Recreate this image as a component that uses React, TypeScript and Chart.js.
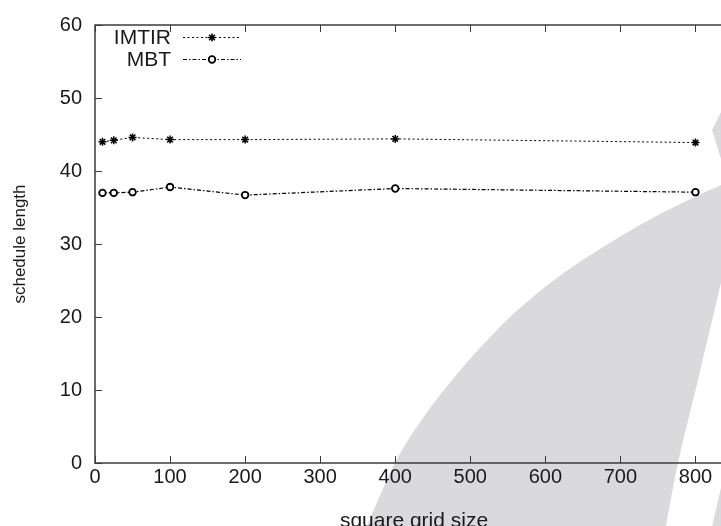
import React, { useEffect, useRef } from 'react';
import { Chart, registerables } from 'chart.js';

Chart.register(...registerables);

// ---- data ----
const gridSizes = [10, 25, 50, 100, 200, 400, 800];
const imtirValues = [44.0, 44.2, 44.6, 44.3, 44.3, 44.4, 43.9];
const mbtValues = [37.0, 37.0, 37.1, 37.8, 36.7, 37.6, 37.1];
const seriesNames = ['IMTIR', 'MBT'];
const xTickValues = [0, 100, 200, 300, 400, 500, 600, 700, 800];
const yTickValues = [0, 10, 20, 30, 40, 50, 60];
const xTitleText = 'square grid size';
const yTitleText = 'schedule length';

const FONT = '"Liberation Sans", Arial, Helvetica, sans-serif';
const TEXT = '#1a1a1a';
const FRAME = '#3c3c3c';
const WATERMARK = '#dadadd';

const dashes: number[][] = [[2, 2.5], [4, 2, 1.5, 2]];

function smoothPath(ctx: CanvasRenderingContext2D, pts: number[][], move: boolean) {
  if (move) ctx.moveTo(pts[0][0], pts[0][1]);
  else ctx.lineTo(pts[0][0], pts[0][1]);
  for (let i = 0; i < pts.length - 1; i++) {
    const p0 = pts[Math.max(0, i - 1)];
    const p1 = pts[i];
    const p2 = pts[i + 1];
    const p3 = pts[Math.min(pts.length - 1, i + 2)];
    const c1x = p1[0] + (p2[0] - p0[0]) / 6;
    const c1y = p1[1] + (p2[1] - p0[1]) / 6;
    const c2x = p2[0] - (p3[0] - p1[0]) / 6;
    const c2y = p2[1] - (p3[1] - p1[1]) / 6;
    ctx.bezierCurveTo(c1x, c1y, c2x, c2y, p2[0], p2[1]);
  }
}

const watermarkPlugin = {
  id: 'watermark',
  beforeDraw(chart: any) {
    const ctx = chart.ctx;
    ctx.save();
    ctx.fillStyle = WATERMARK;
    const curve = [
      [361, 540], [367, 526], [395, 463], [425, 415], [463, 367], [500, 327], [527, 302],
      [565, 272], [613, 241], [662, 213], [721, 185], [760, 170],
    ];
    ctx.beginPath();
    smoothPath(ctx, curve, true);
    ctx.lineTo(760, 250);
    ctx.lineTo(724, 271);
    smoothPath(ctx, [[724, 271], [717, 300], [698, 380], [678, 463], [666, 526], [663, 540]], false);
    ctx.closePath();
    ctx.fill();
    // bottom-right sliver
    ctx.beginPath();
    ctx.moveTo(709, 540);
    ctx.lineTo(725, 470);
    ctx.lineTo(745, 470);
    ctx.lineTo(745, 540);
    ctx.closePath();
    ctx.fill();
    // upper wedge
    ctx.beginPath();
    ctx.moveTo(723, 108);
    ctx.lineTo(712, 130);
    ctx.lineTo(722, 162);
    ctx.lineTo(745, 162);
    ctx.lineTo(745, 108);
    ctx.closePath();
    ctx.fill();
    ctx.restore();
  },
};

const framePlugin = {
  id: 'frame',
  beforeDatasetsDraw(chart: any) {
    const { ctx, chartArea } = chart;
    const { left, right, top, bottom } = chartArea;
    const xs = chart.scales.x;
    const ys = chart.scales.y;
    ctx.save();
    ctx.strokeStyle = FRAME;
    ctx.lineWidth = 1.5;
    ctx.beginPath();
    ctx.rect(left, top, right - left, bottom - top);
    ctx.stroke();
    ctx.lineWidth = 1;
    ctx.beginPath();
    const tl = 7;
    xTickValues.forEach((v) => {
      const px = Math.round(xs.getPixelForValue(v)) + 0.5;
      ctx.moveTo(px, bottom);
      ctx.lineTo(px, bottom - tl);
      ctx.moveTo(px, top);
      ctx.lineTo(px, top + tl);
    });
    yTickValues.forEach((v) => {
      const py = Math.round(ys.getPixelForValue(v)) + 0.5;
      ctx.moveTo(left, py);
      ctx.lineTo(left + tl, py);
      ctx.moveTo(right, py);
      ctx.lineTo(right - tl, py);
    });
    ctx.stroke();
    ctx.restore();
  },
};

function drawMarker(ctx: CanvasRenderingContext2D, style: string, x: number, y: number, r: number) {
  ctx.beginPath();
  if (style === 'star') {
    const d = r * Math.SQRT1_2;
    ctx.moveTo(x - r, y); ctx.lineTo(x + r, y);
    ctx.moveTo(x, y - r); ctx.lineTo(x, y + r);
    ctx.moveTo(x - d, y - d); ctx.lineTo(x + d, y + d);
    ctx.moveTo(x - d, y + d); ctx.lineTo(x + d, y - d);
    ctx.stroke();
  } else {
    ctx.arc(x, y, r, 0, Math.PI * 2);
    ctx.fillStyle = '#fff';
    ctx.fill();
    ctx.stroke();
  }
}

const legendPlugin = {
  id: 'gnuLegend',
  afterDatasetsDraw(chart: any) {
    const ctx = chart.ctx;
    const rows = [37, 59];
    ctx.save();
    chart.data.datasets.forEach((ds: any, i: number) => {
      const y = rows[i];
      ctx.font = `21px ${FONT}`;
      ctx.fillStyle = TEXT;
      ctx.textAlign = 'right';
      ctx.textBaseline = 'middle';
      ctx.fillText(ds.label, 171, y + 1);
      ctx.strokeStyle = '#000';
      ctx.lineWidth = 1;
      ctx.setLineDash(ds.borderDash);
      ctx.beginPath();
      ctx.moveTo(183, y + 0.5);
      ctx.lineTo(241, y + 0.5);
      ctx.stroke();
      ctx.setLineDash([]);
      ctx.lineWidth = ds.pointBorderWidth;
      drawMarker(ctx, ds.pointStyle, 212, y + 0.5, ds.pointRadius);
    });
    ctx.restore();
  },
};

export default function App() {
  const ref = useRef<HTMLCanvasElement | null>(null);
  useEffect(() => {
    if (!ref.current) return;
    const chart = new Chart(ref.current, {
      type: 'line',
      data: {
        datasets: [
          {
            label: seriesNames[0],
            data: gridSizes.map((x, i) => ({ x, y: imtirValues[i] })),
            borderColor: '#000',
            borderWidth: 1,
            borderDash: dashes[0],
            pointStyle: 'star',
            pointRadius: 4,
            pointBorderWidth: 1.5,
            pointBorderColor: '#000',
            pointBackgroundColor: '#000',
            fill: false,
            tension: 0,
          },
          {
            label: seriesNames[1],
            data: gridSizes.map((x, i) => ({ x, y: mbtValues[i] })),
            borderColor: '#000',
            borderWidth: 1.2,
            borderDash: dashes[1],
            pointStyle: 'circle',
            pointRadius: 3.3,
            pointBorderWidth: 1.8,
            pointBorderColor: '#000',
            pointBackgroundColor: '#fff',
            fill: false,
            tension: 0,
          },
        ],
      },
      options: {
        animation: false,
        responsive: false,
        devicePixelRatio: 1,
        layout: { padding: { left: 0, top: 20, right: 8, bottom: 0 } },
        plugins: { legend: { display: false }, tooltip: { enabled: false } },
        scales: {
          x: {
            type: 'linear',
            min: 0,
            max: 850,
            afterBuildTicks: (s: any) => {
              s.ticks = xTickValues.map((v) => ({ value: v }));
            },
            afterFit: (s: any) => {
              s.height = 77;
            },
            grid: { display: false, drawTicks: false },
            border: { display: false },
            ticks: { padding: 2, maxRotation: 0, autoSkip: false, color: TEXT, font: { family: FONT, size: 20 } },
            title: {
              display: true,
              text: xTitleText,
              color: TEXT,
              font: { family: FONT, size: 21 },
              padding: { top: 0, bottom: 6 },
            },
          },
          y: {
            type: 'linear',
            min: 0,
            max: 60,
            afterBuildTicks: (s: any) => {
              s.ticks = yTickValues.map((v) => ({ value: v }));
            },
            afterFit: (s: any) => {
              s.width = 95;
            },
            grid: { display: false, drawTicks: false },
            border: { display: false },
            ticks: { padding: 13, color: TEXT, font: { family: FONT, size: 20 } },
            title: {
              display: true,
              text: yTitleText,
              color: TEXT,
              font: { family: FONT, size: 17 },
              padding: { top: 10, bottom: 0 },
            },
          },
        },
      },
      plugins: [watermarkPlugin, framePlugin, legendPlugin],
    } as any);
    return () => chart.destroy();
  }, []);

  return (
    <div style={{ position: 'absolute', left: 0, top: 0, width: 721, height: 526, overflow: 'hidden', background: '#fff' }}>
      <canvas ref={ref} width={741} height={540} style={{ display: 'block' }} />
    </div>
  );
}
